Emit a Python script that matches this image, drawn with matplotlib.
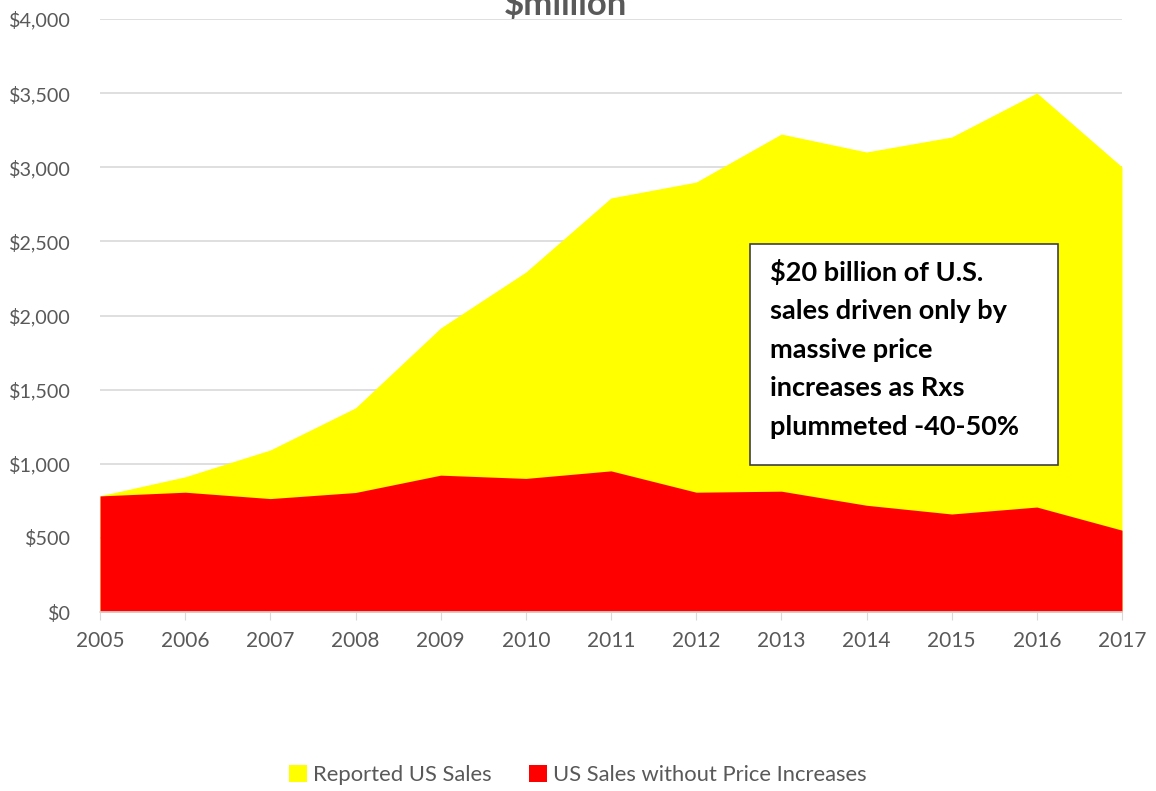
import matplotlib
matplotlib.use("Agg")
import matplotlib.pyplot as plt
from matplotlib.ticker import FuncFormatter
from matplotlib.patches import Patch, Rectangle

years = [2005, 2006, 2007, 2008, 2009, 2010, 2011, 2012, 2013, 2014, 2015, 2016, 2017]
reported = [784, 912, 1093, 1377, 1916, 2293, 2793, 2900, 3224, 3103, 3204, 3501, 3002]
no_price = [783, 808, 765, 806, 923, 901, 952, 808, 815, 720, 661, 708, 552]
series_names = ["Reported US Sales", "US Sales without Price Increases"]
title_text = "$million"
note_text = "$20 billion of U.S.\nsales driven only by\nmassive price\nincreases as Rxs\nplummeted -40-50%"

plt.rcParams['font.family'] = ['Lato', 'DejaVu Sans']

fig = plt.figure(figsize=(11.56, 7.91), dpi=100)
ax = fig.add_axes([100/1156, 1-612/791, (1122-100)/1156, (612-19)/791])

ax.fill_between(years, 0, reported, color="#FFFF00", linewidth=0, zorder=2)
ax.fill_between(years, 0, no_price, color="#FF0000", linewidth=0, zorder=3)

ax.set_xlim(years[0], years[-1])
ax.set_ylim(0, 4000)
ax.set_yticks(range(0, 4001, 500))
ax.yaxis.set_major_formatter(FuncFormatter(lambda v, p: "${:,.0f}".format(v)))
ax.set_xticks(years)
ax.set_xticklabels([str(y) for y in years])
ax.grid(axis='y', color='#D9D9D9', linewidth=1.2, zorder=0)
ax.set_axisbelow(True)
for s in ['top', 'right', 'left']:
    ax.spines[s].set_visible(False)
ax.spines['bottom'].set_color('#D9D9D9')
ax.spines['bottom'].set_linewidth(1.2)
ax.spines['bottom'].set_zorder(5)
ax.tick_params(axis='y', length=0, labelsize=14.2, colors='#595959', pad=21)
ax.tick_params(axis='x', length=6, color='#D9D9D9', labelsize=15, labelcolor='#595959', pad=8)

fig.text(565/1156, 1-15/791, title_text, ha='center', va='baseline', fontsize=25,
         fontweight='bold', color='#595959')

fig.patches.append(Rectangle((750/1156, 1-465/791), (1058-750)/1156, (465-244)/791,
                             transform=fig.transFigure, facecolor='white', edgecolor='#404040',
                             linewidth=1.2, zorder=9))
fig.text(770/1156, 1-259/791, note_text, ha='left', va='top',
         fontsize=19.5, fontweight='bold', color='black', linespacing=1.72, zorder=10)

handles = [Patch(facecolor="#FFFF00", edgecolor='none'), Patch(facecolor="#FF0000", edgecolor='none')]
leg = fig.legend(handles, series_names, loc='center', bbox_to_anchor=(0.5, 1-775/791), ncol=2,
                 frameon=False, fontsize=15.8, handlelength=0.8, handleheight=0.8,
                 handletextpad=0.3, columnspacing=1.7)
for t in leg.get_texts():
    t.set_color('#595959')

fig.savefig("out.png", dpi=100)
